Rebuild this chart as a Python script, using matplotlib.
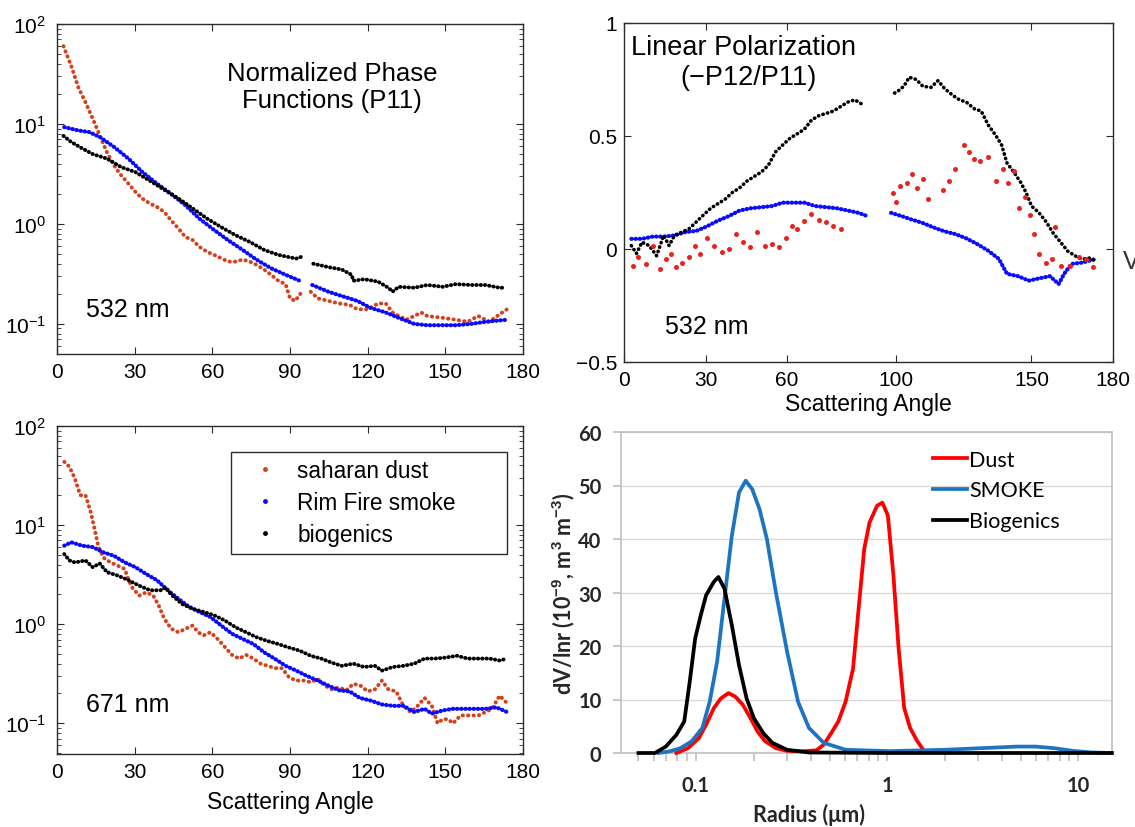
import numpy as np
import matplotlib
matplotlib.use('Agg')
import matplotlib.pyplot as plt
from matplotlib.lines import Line2D
from matplotlib.ticker import LogLocator, NullFormatter
from matplotlib.font_manager import FontProperties

nan = np.nan

# ---------------- data: phase functions, 532 nm ----------------
dust532_ang = [2.5, 5.5, 8.3, 11, 13.8, 16.5, 19.3, 22, 24.8, 27.6, 30.3, 33, 35.9, 38.6, 41.4, 44, 46.9,
               49.6, 52.4, 55, 58, 60.7, 63.4, 66, 69, 71.7, 74.5, 77, 80, 82.7, 85.5, 88.3, 90, 92, 94, nan,
               98, 100.7, 104.8, 109, 113, 116, 120, 124, 127, 129.6, 132, 135, 140.7, 143, 149, 154, 158.6,
               162.7, 167, 171, 173.8]
dust532_val = [60, 38, 23, 16.5, 11.3, 7.7, 5.2, 3.85, 3.06, 2.53, 2.09, 1.79, 1.6, 1.48, 1.32, 1.09, 0.90,
               0.74, 0.69, 0.59, 0.525, 0.49, 0.455, 0.42, 0.42, 0.44, 0.42, 0.39, 0.35, 0.31, 0.27, 0.25, 0.18,
               0.17, 0.2, nan, 0.21, 0.18, 0.17, 0.16, 0.155, 0.14, 0.14, 0.16, 0.16, 0.13, 0.12, 0.11, 0.13,
               0.12, 0.115, 0.11, 0.105, 0.12, 0.105, 0.125, 0.14]
smoke532_ang = [2.8, 8.3, 12.4, 16.5, 22, 27.6, 33, 38.6, 44, 49.6, 55, 60.7, 66, 71.7, 77, 82.7, 88.3, 93.8,
                nan, 98.6, 104.8, 110, 116, 121, 127, 132, 138, 143, 149, 154, 160, 165.5, 173.8]
smoke532_val = [9.3, 8.6, 8.3, 7.4, 5.9, 4.5, 3.3, 2.53, 2.0, 1.54, 1.13, 0.87, 0.69, 0.55, 0.44, 0.36, 0.31,
                0.27, nan, 0.245, 0.21, 0.19, 0.17, 0.145, 0.13, 0.115, 0.10, 0.097, 0.097, 0.097, 0.10, 0.105,
                0.11]
bio532_ang = [2.5, 5.5, 9.7, 13.8, 19.3, 24.8, 30.3, 35.9, 41.4, 46.9, 52.4, 58, 63.4, 69, 74.5, 80, 85.5,
              92.4, 94.5, nan, 99, 104.8, 110, 113.8, 114.5, 118.6, 124, 128, 129.6, 132, 138, 143, 149, 154,
              160, 165.5, 171, 173]
bio532_val = [7.6, 6.6, 5.7, 5.0, 4.5, 3.7, 3.3, 2.7, 2.2, 1.8, 1.43, 1.13, 0.93, 0.77, 0.66, 0.55, 0.49,
              0.45, 0.47, nan, 0.40, 0.37, 0.35, 0.31, 0.27, 0.28, 0.265, 0.23, 0.21, 0.235, 0.23, 0.245,
              0.235, 0.25, 0.245, 0.245, 0.23, 0.23]

# ---------------- data: linear polarization, 532 nm ----------------
bio_pol_ang = [2.7, 4.6, 6.6, 9.3, 12, 14.6, 16.6, 18.6, 21.3, 24, 26.6, 29.2, 31.9, 34.5, 37.2, 39.9, 42.5,
               45.2, 47.8, 50.5, 53.1, 55.8, 58.4, 61.1, 63.8, 66.4, 69, 71.7, 74.4, 77, 79.7, 82.4, 85, 87.7,
               nan, 99.6, 101, 103, 105, 107.6, 110, 113, 115.6, 118, 121, 123.5, 126, 129, 131.5, 134, 137,
               139, 141, 143.5, 146, 148, 150, 152.8, 155.4, 158, 160.7, 163.4, 166, 168.7, 171.4, 173.4]
bio_pol_val = [0.015, -0.02, 0.03, 0.015, -0.03, 0.06, 0.015, 0.06, 0.075, 0.09, 0.12, 0.15, 0.18, 0.2, 0.22,
               0.25, 0.27, 0.30, 0.32, 0.34, 0.37, 0.43, 0.46, 0.49, 0.51, 0.53, 0.57, 0.59, 0.60, 0.61, 0.63,
               0.65, 0.66, 0.64, nan, 0.69, 0.70, 0.72, 0.76, 0.75, 0.72, 0.715, 0.745, 0.71, 0.68, 0.66, 0.65,
               0.62, 0.61, 0.55, 0.50, 0.46, 0.38, 0.34, 0.295, 0.25, 0.19, 0.16, 0.12, 0.07, 0.03, -0.01,
               -0.03, -0.045, -0.04, -0.05]
smoke_pol_ang = [2.7, 6.6, 10.6, 14.6, 18.6, 22.6, 26.6, 30.5, 34.5, 38.5, 42.5, 46.5, 50.5, 54.5, 58.4, 62.4,
                 66.4, 70.4, 74.4, 78.4, 82.4, 86.3, 89.7, nan, 98.3, 102.3, 106, 110, 114, 118, 122, 126, 130,
                 134, 138, 141, 145, 149, 152.8, 156.8, 160, 162, 164.7, 168.7, 173.4]
smoke_pol_val = [0.045, 0.045, 0.055, 0.055, 0.06, 0.075, 0.08, 0.10, 0.125, 0.145, 0.17, 0.18, 0.185, 0.19,
                 0.205, 0.205, 0.205, 0.19, 0.185, 0.18, 0.17, 0.16, 0.145, nan, 0.16, 0.145, 0.13, 0.115,
                 0.095, 0.078, 0.066, 0.047, 0.022, -0.007, -0.044, -0.11, -0.12, -0.14, -0.13, -0.12, -0.155,
                 -0.11, -0.066, -0.06, -0.045]
dust_pol_ang = [3.3, 5.3, 8, 10.6, 13.3, 15.3, 17.3, 19.3, 21.3, 24, 26, 27.9, 30.5, 33.2, 35.9, 38.5, 41.2,
                43.8, 46.5, 49.1, 51.8, 54.5, 57, 59.8, 61.8, 63.8, 66.4, 69, 71.7, 74.4, 77, 79.7, 99, 100.3,
                101.6, 104.2, 106, 108, 110, 112, 117.6, 119.5, 122, 125, 127, 129, 131, 134, 137, 139.5, 141.5,
                143.5, 145.4, 147.5, 149.4, 150.8, 152.8, 155.4, 157.4, 158.7, 160.7, 164, 167.4, 170, 172.7]
dust_pol_val = [-0.074, -0.037, -0.066, 0.015, -0.09, -0.044, -0.022, -0.08, -0.06, -0.037, 0.015, -0.022,
                0.05, 0.015, -0.015, 0.0, 0.066, 0.03, 0.007, 0.074, 0.015, 0.022, 0.007, 0.05, 0.10, 0.09,
                0.125, 0.155, 0.13, 0.12, 0.10, 0.09, 0.25, 0.21, 0.28, 0.29, 0.33, 0.27, 0.31, 0.22, 0.26,
                0.30, 0.355, 0.46, 0.43, 0.40, 0.39, 0.405, 0.30, 0.355, 0.29, 0.345, 0.18, 0.23, 0.15, 0.066,
                -0.022, -0.06, -0.044, 0.096, -0.074, -0.074, -0.037, -0.044, -0.08]

# ---------------- data: phase functions, 671 nm ----------------
dust671_ang = [2.8, 4.8, 6.9, 9, 11, 13, 14.5, 15.9, 17.9, 20.7, 23.4, 26.2, 27.6, 29, 31.7, 34.5, 37.2, 39.3,
               41.4, 44.1, 46.9, 49.7, 52.4, 54.5, 56.6, 59.3, 62, 64.8, 67.6, 70.3, 73.1, 75.9, 78.6, 81.4,
               84.1, 86.9, 89.7, 92.4, 95.2, 98, 100.7, 103.4, 106.2, 109, 111.7, 114.5, 117.2, 120, 122.8,
               125.5, 128, 131, 133.8, 136.6, 139.3, 142, 144.8, 147, 149, 151, 153, 155.9, 160, 162.8, 165.5,
               168, 171, 173.8]
dust671_val = [43.5, 38.8, 29.5, 20, 20, 13.6, 9.2, 6.2, 4.7, 4.2, 3.9, 3.6, 2.8, 2.35, 1.94, 2.1, 1.94, 1.54,
               1.14, 0.90, 0.83, 0.90, 0.97, 0.83, 0.77, 0.83, 0.71, 0.59, 0.49, 0.45, 0.49, 0.45, 0.40, 0.38,
               0.36, 0.36, 0.29, 0.27, 0.27, 0.26, 0.28, 0.24, 0.22, 0.23, 0.215, 0.25, 0.24, 0.21, 0.22, 0.27,
               0.22, 0.21, 0.15, 0.13, 0.15, 0.18, 0.15, 0.10, 0.11, 0.11, 0.10, 0.12, 0.12, 0.12, 0.13, 0.14,
               0.19, 0.16]
smoke671_ang = [2.8, 5.5, 9.7, 13.8, 18, 22, 26.2, 30.3, 34.5, 38.6, 42.8, 46.9, 51, 55, 59.3, 63.4, 67.6,
                71.7, 75.9, 80, 84, 88.3, 92.4, 96.6, 100.7, 104.8, 109, 113, 117, 121, 125.5, 129.7, 133.8,
                138, 142, 144.8, 149, 153, 157, 161.4, 165.5, 169.7, 173.8]
smoke671_val = [6.2, 6.7, 6.2, 6.0, 5.3, 4.9, 4.2, 3.76, 3.2, 2.78, 2.2, 1.8, 1.5, 1.33, 1.18, 0.97, 0.80,
                0.71, 0.63, 0.52, 0.45, 0.38, 0.34, 0.30, 0.27, 0.24, 0.215, 0.21, 0.18, 0.17, 0.155, 0.15,
                0.15, 0.13, 0.14, 0.125, 0.135, 0.14, 0.14, 0.14, 0.14, 0.145, 0.13]
bio671_ang = [2.8, 4.8, 6.9, 11, 13.8, 16.5, 19.3, 23.4, 27.6, 31.7, 35.9, 40, 42, 44, 48.3, 52.4, 56.6, 60.7,
              64.8, 69, 73, 77, 81, 85.5, 89.7, 93.8, 98, 102, 106, 110, 114.5, 118.6, 122.8, 125.5, 129.7,
              133.8, 138, 142, 146, 150, 154.5, 158.6, 162.8, 167, 171, 173.8]
bio671_val = [5.1, 4.4, 4.2, 4.4, 3.76, 4.1, 3.35, 3.1, 2.78, 2.45, 2.2, 2.2, 2.35, 2.0, 1.6, 1.43, 1.33, 1.23,
              1.09, 0.93, 0.83, 0.74, 0.68, 0.63, 0.58, 0.54, 0.48, 0.45, 0.41, 0.38, 0.40, 0.37, 0.38, 0.34,
              0.37, 0.38, 0.40, 0.45, 0.45, 0.46, 0.48, 0.45, 0.45, 0.45, 0.43, 0.45]

# ---------------- data: size distributions ----------------
dust_r = [0.079, 0.0908, 0.1036, 0.113, 0.124, 0.135, 0.148, 0.161, 0.176, 0.193, 0.21, 0.23, 0.262, 0.30,
          0.357, 0.427, 0.466, 0.51, 0.556, 0.607, 0.664, 0.71, 0.76, 0.81, 0.886, 0.945, 1.01, 1.08, 1.15,
          1.23, 1.32, 1.44, 1.57]
dust_v = [0.0, 0.9, 2.8, 5.3, 8.4, 10.2, 11.2, 10.5, 9.0, 6.5, 4.0, 2.2, 0.9, 0.4, 0.3, 0.5, 1.55, 3.7, 5.9,
          9.6, 15.8, 27, 38.2, 43.1, 46.2, 46.8, 44.4, 33.2, 19.5, 8.4, 4.7, 2.2, 0.3]
smoke_r = [0.0637, 0.0727, 0.083, 0.095, 0.108, 0.118, 0.129, 0.141, 0.154, 0.168, 0.182, 0.197, 0.215,
           0.235, 0.262, 0.30, 0.342, 0.39, 0.466, 0.607, 1.03, 2.0, 3.1, 4.8, 6.0, 7.5, 9.4, 11.8, 15]
smoke_v = [0.0, 0.3, 0.9, 2.2, 4.7, 9.6, 17.1, 28.9, 40.6, 48.7, 50.9, 49.3, 45.6, 40.0, 30.0, 18.9, 9.6, 4.7,
           1.9, 0.6, 0.35, 0.6, 0.9, 1.2, 1.2, 0.9, 0.4, 0.1, 0.0]
bio_r = [0.05, 0.061, 0.0695, 0.079, 0.0868, 0.0927, 0.099, 0.106, 0.113, 0.124, 0.131, 0.141, 0.154, 0.168,
         0.184, 0.201, 0.225, 0.251, 0.30, 0.39, 1.0, 15]
bio_v = [0.0, 0.0, 1.2, 3.4, 5.9, 13.3, 21.4, 25.8, 29.5, 32.0, 32.9, 30.7, 23.9, 16.4, 10.2, 6.5, 3.7, 1.9,
         0.6, 0.1, 0.0, 0.0]

phase_labels = ['saharan dust', 'Rim Fire smoke', 'biogenics']
size_labels = ['Dust', 'SMOKE', 'Biogenics']
angle_ticks = [0, 30, 60, 90, 120, 150, 180]
pol_xticks = [0, 30, 60, 100, 150, 180]
pol_yticks = [-0.5, 0, 0.5, 1]
pol_ylabels = ['\u22120.5', '0', '0.5', '1']
size_yticks = [0, 10, 20, 30, 40, 50, 60]
size_xticks = [0.1, 1, 10]
size_xlabels = ['0.1', '1', '10']

# ---------------- style ----------------
plt.rcParams['font.family'] = ['Liberation Sans', 'DejaVu Sans']
plt.rcParams['mathtext.fontset'] = 'custom'
plt.rcParams['mathtext.rm'] = 'Liberation Sans'
plt.rcParams['mathtext.it'] = 'Liberation Sans:italic'
plt.rcParams['mathtext.bf'] = 'Liberation Sans:bold'

W, H = 1135, 828
fig = plt.figure(figsize=(W / 100, H / 100), dpi=100)


def rect(l, t, r, b):
    return [l / W, 1 - b / H, (r - l) / W, (b - t) / H]


RED_L = '#d5401a'
RED_P = '#e8231e'
BLUE_L = '#0a0aff'
BLACK = '#000000'


def style_matlab(ax):
    for s in ax.spines.values():
        s.set_color('#2b2b2b')
        s.set_linewidth(1.0)
    ax.tick_params(which='both', direction='in', top=True, right=True, colors='#2b2b2b',
                   labelcolor='black', labelsize=15, pad=6)
    ax.tick_params(which='major', length=5, width=0.8)
    ax.tick_params(which='minor', length=3, width=0.6)


def dotted(ax, x, y, color, lw, gap):
    ax.plot(x, y, color=color, lw=lw, ls=(0, (0.1, gap)), dash_capstyle='round')


def phase_panel(ax, dust, smoke, bio, ylim):
    dotted(ax, dust[0], dust[1], RED_L, 2.8, 1.3)
    dotted(ax, smoke[0], smoke[1], BLUE_L, 3.0, 0.9)
    dotted(ax, bio[0], bio[1], BLACK, 2.8, 1.0)
    ax.set_yscale('log')
    ax.set_xlim(0, 180)
    ax.set_ylim(*ylim)
    ax.set_xticks(angle_ticks)
    ax.yaxis.set_minor_formatter(NullFormatter())
    style_matlab(ax)
    ax.tick_params(axis='y', pad=8)


# ---- top-left ----
ax1 = fig.add_axes(rect(57, 25, 523, 355))
phase_panel(ax1, (dust532_ang, dust532_val), (smoke532_ang, smoke532_val), (bio532_ang, bio532_val),
            (0.05, 100))
ax1.text(0.59, 0.81, 'Normalized Phase\nFunctions (P11)', transform=ax1.transAxes, ha='center',
         va='center', fontsize=18.5, linespacing=1.15)
ax1.text(0.062, 0.136, '532 nm', transform=ax1.transAxes, ha='left', va='center', fontsize=18)

# ---- bottom-left ----
ax3 = fig.add_axes(rect(57, 427, 523, 755))
phase_panel(ax3, (dust671_ang, dust671_val), (smoke671_ang, smoke671_val), (bio671_ang, bio671_val),
            (0.049, 100))
ax3.text(0.062, 0.152, '671 nm', transform=ax3.transAxes, ha='left', va='center', fontsize=18)
ax3.set_xlabel('Scattering Angle', fontsize=16.5, labelpad=6)
handles = [Line2D([], [], ls='none', marker='o', ms=3.5, mec='none', color=c)
           for c in (RED_L, BLUE_L, BLACK)]
leg = ax3.legend(handles, phase_labels, loc='upper left', mode='expand',
                 bbox_to_anchor=(0.3734, 0.616, 0.5923, 0.3049), fontsize=16.3, frameon=True,
                 fancybox=False, framealpha=1, edgecolor='#2b2b2b', borderpad=0.32, labelspacing=0.4,
                 handlelength=2.4, handletextpad=0.2, borderaxespad=0)
leg.get_frame().set_linewidth(1.0)

# ---- top-right ----
ax2 = fig.add_axes(rect(624, 24, 1113, 363))
dotted(ax2, smoke_pol_ang, smoke_pol_val, BLUE_L, 3.0, 0.9)
dotted(ax2, bio_pol_ang, bio_pol_val, BLACK, 2.6, 1.2)
ax2.plot(dust_pol_ang, dust_pol_val, ls='none', marker='o', ms=3.6, mec='none', color=RED_P)
ax2.set_xlim(0, 180)
ax2.set_ylim(-0.5, 1)
ax2.set_xticks(pol_xticks)
ax2.set_yticks(pol_yticks)
ax2.set_yticklabels(pol_ylabels)
style_matlab(ax2)
ax2.tick_params(axis='y', pad=5)
ax2.set_xlabel('Scattering Angle', fontsize=16.5, labelpad=2)
ax2.text(0.014, 0.93, 'Linear Polarization', transform=ax2.transAxes, ha='left', va='center',
         fontsize=19.5)
ax2.text(0.254, 0.84, '(\u2212P12/P11)', transform=ax2.transAxes, ha='center', va='center',
         fontsize=19.5)
ax2.text(0.084, 0.106, '532 nm', transform=ax2.transAxes, ha='left', va='center', fontsize=18)
fig.text(1123 / W, 1 - 262 / H, 'V', fontsize=18, ha='left', va='center', color='#333333')

# ---- bottom-right ----
fpb = FontProperties(family=['Lato', 'DejaVu Sans'], weight='bold', size=14.5)
fpl = FontProperties(family=['Lato', 'DejaVu Sans'], size=15.5)
ax4 = fig.add_axes(rect(621, 433, 1112, 754))
ax4.plot(dust_r, dust_v, color='#ff0000', lw=2.7, clip_on=False, zorder=3, label=size_labels[0],
         solid_joinstyle='round')
ax4.plot(smoke_r, smoke_v, color='#1f74c0', lw=2.7, clip_on=False, zorder=3, label=size_labels[1],
         solid_joinstyle='round')
ax4.plot(bio_r, bio_v, color='#000000', lw=2.7, clip_on=False, zorder=4, label=size_labels[2],
         solid_joinstyle='round')
ax4.set_xscale('log')
ax4.set_xlim(0.0405, 15.05)
ax4.set_ylim(0, 60)
ax4.set_yticks(size_yticks)
ax4.set_xticks(size_xticks)
ax4.set_xticklabels(size_xlabels)
ax4.xaxis.set_minor_locator(LogLocator(base=10, subs=np.arange(2, 10)))
ax4.xaxis.set_minor_formatter(NullFormatter())
ax4.grid(axis='y', color='#d9d9d9', lw=1.0)
ax4.set_axisbelow(True)
for s in ax4.spines.values():
    s.set_color('#bfbfbf')
    s.set_linewidth(1.2)
ax4.tick_params(which='both', direction='out', length=6, width=1.2, color='#bfbfbf', top=False,
                right=False, labelcolor='#262626')
ax4.tick_params(axis='y', pad=8)
ax4.tick_params(axis='x', pad=10)
for lab in ax4.get_xticklabels() + ax4.get_yticklabels():
    lab.set_fontproperties(fpb)
ax4.set_xlabel('Radius (\u03bcm)', fontproperties=FontProperties(family=['Lato', 'DejaVu Sans'],
                                                                 weight='bold', size=15.5), color='#262626')
ax4.xaxis.set_label_coords(0.383, -0.155)
ax4.set_ylabel(r'dV/lnr (10$^{\mathbf{-9}}$, m$^{\mathbf{3}}$ m$^{\mathbf{-3}}$)',
               fontproperties=FontProperties(family=['Lato', 'DejaVu Sans'], weight='bold', size=15.5),
               color='#262626')
ax4.yaxis.set_label_coords(-0.09, 0.5)
ax4.legend(loc='upper left', bbox_to_anchor=(0.635, 0.945), frameon=False, borderpad=0, borderaxespad=0,
           handlelength=1.6, handletextpad=0.1, labelspacing=0.5, prop=fpl)

fig.savefig('out.png', dpi=100)
